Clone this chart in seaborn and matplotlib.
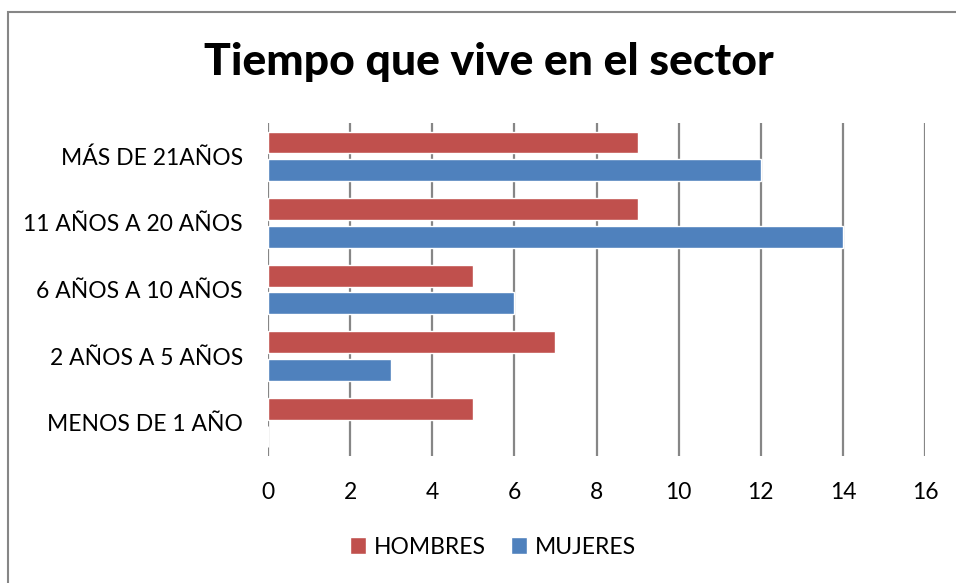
import matplotlib
matplotlib.use("Agg")
import matplotlib.pyplot as plt
import seaborn as sns
import pandas as pd
from matplotlib.patches import Rectangle

categories = ["MÁS DE 21AÑOS", "11 AÑOS A 20 AÑOS", "6 AÑOS A 10 AÑOS",
              "2 AÑOS A 5 AÑOS", "MENOS DE 1 AÑO"]
hombres = [9, 9, 5, 7, 5]
mujeres = [12, 14, 6, 3, 0]
series = ["HOMBRES", "MUJERES"]
colors = ["#C0504D", "#4F81BD"]
xticks = [0, 2, 4, 6, 8, 10, 12, 14, 16]
title = "Tiempo que vive en el sector"

df = pd.DataFrame({
    "cat": categories * 2,
    "val": hombres + mujeres,
    "serie": [series[0]] * len(categories) + [series[1]] * len(categories),
})

sns.set_theme(style="white")
plt.rcParams["font.family"] = ["Lato", "DejaVu Sans"]
plt.rcParams["text.color"] = "black"
plt.rcParams["xtick.color"] = "black"
plt.rcParams["ytick.color"] = "black"

fig = plt.figure(figsize=(9.56, 5.83), dpi=100)
ax = fig.add_axes([268 / 956, 1 - 456 / 583, (925 - 268) / 956, (456 - 123) / 583])

sns.barplot(data=df, y="cat", x="val", hue="serie", order=categories,
            hue_order=series, palette=colors, orient="h", width=0.83,
            gap=0.21, saturation=1, ax=ax, legend=True)

ax.set_xlim(0, 16)
ax.set_xticks(xticks)
ax.set_xticklabels([str(t) for t in xticks], fontsize=16.5, color="black")
ax.grid(axis="x", color="#868686", linewidth=1.6)
ax.set_axisbelow(True)
for s in ax.spines.values():
    s.set_visible(False)
ax.tick_params(axis="both", length=0, labelcolor="black")
ax.tick_params(axis="x", pad=19)
ax.tick_params(axis="y", pad=18)
for lab in ax.get_yticklabels():
    lab.set_fontsize(16.5)
    lab.set_color("black")
ax.set_xlabel("")
ax.set_ylabel("")

leg = ax.legend(loc="center", bbox_to_anchor=(493 / 956, 1 - 547 / 583),
                bbox_transform=fig.transFigure, ncol=2, frameon=False,
                fontsize=16.5, handlelength=0.7, handleheight=0.7,
                handletextpad=0.35, columnspacing=1.1)
for t in leg.get_texts():
    t.set_color("black")

fig.text(489 / 956, 1 - 62 / 583, title, ha="center", va="center",
         fontsize=32, fontweight="black", color="black")

fig.patches.append(Rectangle((8 / 956, -0.1), 1.1, 1 - 12 / 583 + 0.1,
                             transform=fig.transFigure, fill=False,
                             edgecolor="#868686", linewidth=1.5))

fig.savefig("out.png", dpi=100)
